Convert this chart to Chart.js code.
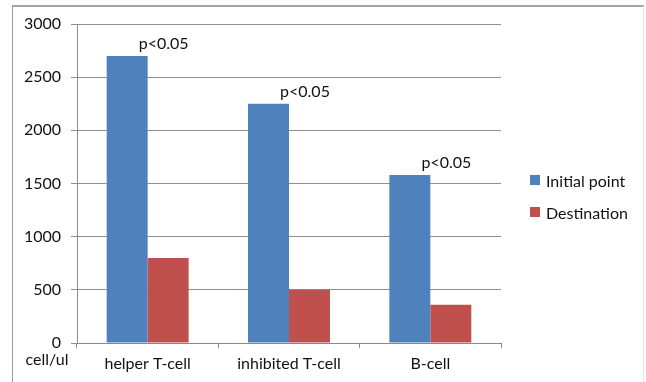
<!DOCTYPE html>
<html>
<head>
<meta charset="utf-8">
<script src="https://cdn.jsdelivr.net/npm/chart.js@4"></script>
<style>
    html, body { margin: 0; padding: 0; background: #fff; }
    #wrap { position: relative; width: 646px; height: 382px; overflow: hidden; }
    #frame {
        position: absolute; left: 12px; top: 5px; right: 2px; bottom: -4px;
        border-top: 2px solid #a3a3a3; border-left: 1px solid #9c9c9c; border-right: 1px solid #e2e2e2;
    }
    #cellChart { position: absolute; left: 0; top: 0; }
    #legend { position: absolute; left: 530px; top: 170px; font: 16px Lato, sans-serif; color: #111; }
    #legend div { display: flex; align-items: center; height: 20px; margin-bottom: 12px; }
    #legend span.box { display: inline-block; width: 10px; height: 10px; margin-right: 6px; }
</style>
</head>
<body>
<div id="wrap">
    <div id="frame"></div>
    <canvas id="cellChart" width="646" height="382"></canvas>
    <div id="legend"></div>
</div>
<script>
    // Data
    const categories = ['helper T-cell', 'inhibited T-cell', 'B-cell'];
    const initialPoint = [2700, 2250, 1580];
    const destination = [800, 500, 360];
    const seriesNames = ['Initial point', 'Destination'];
    const pLabels = ['p<0.05', 'p<0.05', 'p<0.05'];
    const yTicks = [0, 500, 1000, 1500, 2000, 2500, 3000];

    const colors = ['#4f81bd', '#c0504d'];
    const fontFamily = 'Lato, "Open Sans", sans-serif';
    const textColor = '#111';

    // p-value text above each blue bar, plus unit label under the y axis
    const annotate = {
        id: 'annotate',
        afterDatasetsDraw(chart) {
            const ctx = chart.ctx;
            const meta = chart.getDatasetMeta(0);
            ctx.save();
            ctx.font = '16px ' + fontFamily;
            ctx.fillStyle = textColor;
            ctx.textAlign = 'center';
            ctx.textBaseline = 'bottom';
            meta.data.forEach((bar, i) => {
                ctx.fillText(pLabels[i], bar.x + bar.width / 2 + 16, bar.y - 4);
            });
            const y = chart.scales.y;
            ctx.textBaseline = 'middle';
            ctx.fillText('cell/ul', 47, y.bottom + 17);
            ctx.restore();
        }
    };

    const chart = new Chart(document.getElementById('cellChart'), {
        type: 'bar',
        data: {
            labels: categories,
            datasets: [
                { label: seriesNames[0], data: initialPoint, backgroundColor: colors[0] },
                { label: seriesNames[1], data: destination, backgroundColor: colors[1] }
            ]
        },
        options: {
            responsive: false,
            animation: false,
            layout: { padding: { left: 0, top: 24, right: 145, bottom: 0 } },
            datasets: { bar: { categoryPercentage: 0.58, barPercentage: 1.0 } },
            plugins: { legend: { display: false }, tooltip: { enabled: false } },
            scales: {
                x: {
                    afterFit: (s) => { s.height = 39; },
                    grid: { drawOnChartArea: false, drawTicks: true, tickLength: 5, color: '#8a8a8a' },
                    border: { color: '#8a8a8a' },
                    ticks: { color: textColor, font: { family: fontFamily, size: 16 }, padding: 6 }
                },
                y: {
                    min: 0,
                    max: 3000,
                    afterFit: (s) => { s.width = 77; },
                    afterBuildTicks: (s) => { s.ticks = yTicks.map(v => ({ value: v })); },
                    grid: { color: '#8f8f8f', tickLength: 6 },
                    border: { color: '#8f8f8f' },
                    ticks: {
                        color: textColor,
                        font: { family: fontFamily, size: 16 },
                        padding: 10,
                        callback: (v) => String(v)
                    }
                }
            }
        },
        plugins: [annotate]
    });

    // Legend on the right
    const legend = document.getElementById('legend');
    chart.data.datasets.forEach(ds => {
        const row = document.createElement('div');
        row.innerHTML = '<span class="box" style="background:' + ds.backgroundColor + '"></span>' + ds.label;
        legend.appendChild(row);
    });
</script>
</body>
</html>
